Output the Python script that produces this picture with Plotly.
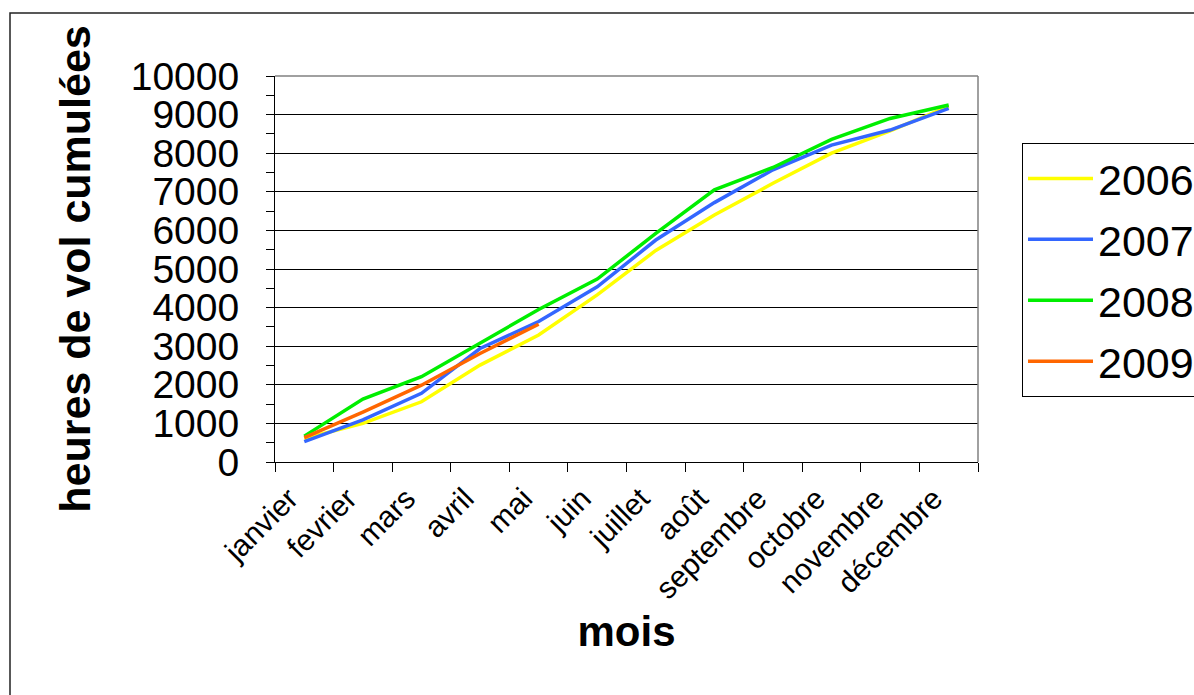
import plotly.graph_objects as go

mois = ["janvier", "fevrier", "mars", "avril", "mai", "juin", "juillet",
        "août", "septembre", "octobre", "novembre", "décembre"]

h2006 = [610, 1000, 1560, 2510, 3290, 4330, 5480, 6400, 7220, 8000, 8580, 9210]
h2007 = [530, 1090, 1780, 2940, 3640, 4540, 5750, 6720, 7570, 8210, 8600, 9160]
h2008 = [670, 1630, 2210, 3070, 3950, 4740, 5920, 7050, 7630, 8360, 8900, 9250]
h2009 = [630, 1290, 1990, 2810, 3570]

y_ticks = [0, 1000, 2000, 3000, 4000, 5000, 6000, 7000, 8000, 9000, 10000]
y_labels = [str(v) for v in y_ticks]

series = [
    ("2006", h2006, "#FFFF00"),
    ("2007", h2007, "#3366FF"),
    ("2008", h2008, "#00EE00"),
    ("2009", h2009, "#FF6600"),
]

FONT = "Arial, Liberation Sans, sans-serif"

fig = go.Figure()
for i, (name, vals, col) in enumerate(series):
    fig.add_trace(go.Scatter(
        x=mois[:len(vals)], y=vals, name=name, mode="lines",
        line=dict(color=col, width=3.5),
        legendgroup=name,
    ))

W, H = 1194, 695
L, R, T, B = 275, 978, 76, 462

fig.update_layout(
    width=W, height=H,
    margin=dict(l=L, r=W - R, t=T, b=H - B, autoexpand=False),
    paper_bgcolor="white", plot_bgcolor="white",
    font=dict(family=FONT, color="black"),
    showlegend=True,
    legend=dict(
        x=(1022 - L) / (R - L), y=(B - 143) / (B - T),
        xanchor="left", yanchor="top",
        bordercolor="black", borderwidth=1,
        font=dict(size=43, family=FONT),
        traceorder="grouped", tracegroupgap=2,
        itemwidth=65,
    ),
    xaxis=dict(
        type="category",
        categoryorder="array", categoryarray=mois,
        range=[-0.5, 11.5],
        showgrid=False,
        showline=True, linecolor="black", linewidth=1,
        mirror=False,
        ticks="outside", tickson="boundaries", ticklen=9,
        tickcolor="black",
        tickangle=-45,
        tickfont=dict(size=30, family=FONT),
        ticklabelshift=-15,
        ticklabelstandoff=6,
        title=dict(text="<b>mois</b>", font=dict(size=42, family=FONT), standoff=12),
        zeroline=False,
    ),
    yaxis=dict(
        range=[0, 10000],
        tickvals=y_ticks, ticktext=y_labels,
        showgrid=True, gridcolor="black", gridwidth=1,
        showline=True, linecolor="black", linewidth=1,
        ticks="outside", ticklen=8, tickcolor="black",
        minor=dict(dtick=500, ticks="outside", ticklen=8, tickcolor="black", showgrid=False),
        tickfont=dict(size=39, family=FONT),
        ticklabelstandoff=19,
        title=dict(text="<b>heures de vol cumulées</b>", font=dict(size=43, family=FONT), standoff=26),
        zeroline=False,
    ),
    shapes=[
        dict(type="line", xref="paper", yref="paper", x0=0, x1=1, y0=1, y1=1,
             line=dict(color="#808080", width=1.5)),
        dict(type="line", xref="paper", yref="paper", x0=1, x1=1, y0=0, y1=1,
             line=dict(color="#808080", width=1.5)),
        dict(type="rect", xref="paper", yref="paper",
             x0=(10 - L) / (R - L), x1=1.5, y0=-1.5, y1=(B - 13) / (B - T),
             line=dict(color="#222222", width=1.5), layer="below"),
    ],
)

fig.write_html("out.html", config={"displayModeBar": False},
               post_script="document.body.style.margin='0px';document.body.style.overflow='hidden';")
